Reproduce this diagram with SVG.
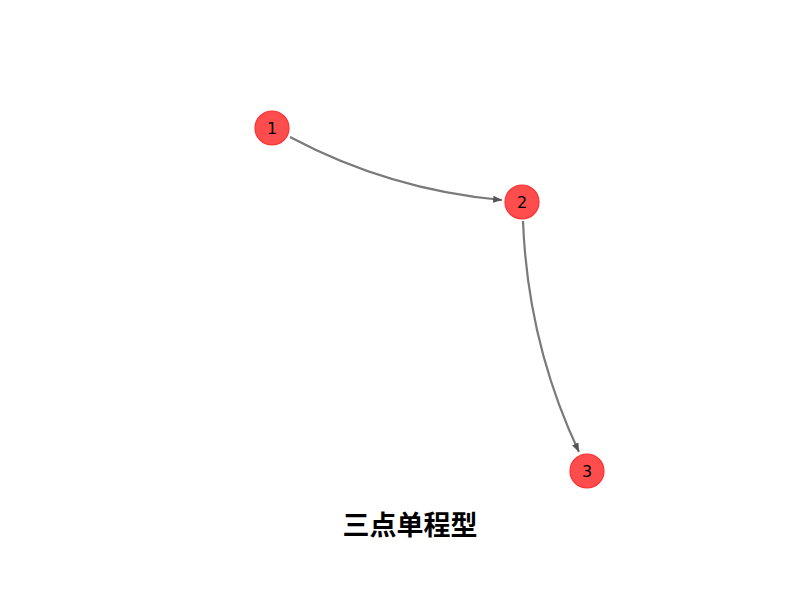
<svg xmlns="http://www.w3.org/2000/svg" width="800" height="600" viewBox="0 0 800 600">
<style>
.edge{fill:none;stroke:#7a7a7a;stroke-width:2.2;}
.node circle{fill:#ff4d4d;stroke:#ff3030;stroke-width:1.2;}
.node text{font-family:"DejaVu Sans",sans-serif;font-size:16px;fill:#000;text-anchor:middle;dominant-baseline:central;}
.title{font-family:"Noto Sans CJK SC",sans-serif;font-weight:bold;font-size:27px;fill:#000;text-anchor:middle;dominant-baseline:central;}
</style>
<defs>
<marker id="arr" viewBox="0 0 10 10" refX="10" refY="5" markerWidth="4" markerHeight="4" orient="auto" markerUnits="strokeWidth">
<path d="M0,1 L10,5 L0,9 z" fill="#555"/>
</marker>
</defs>
<rect width="800" height="600" fill="#fff"/>
<g id="edges">
<path class="edge" d="M290,137 Q389.6,190 502,200" marker-end="url(#arr)"/>
<path class="edge" d="M523,221 Q527.6,343 579,452" marker-end="url(#arr)"/>
</g>
<g id="node1" class="node"><circle cx="272" cy="128" r="17"/><text x="272" y="128">1</text></g>
<g id="node2" class="node"><circle cx="522" cy="202" r="17"/><text x="522" y="202">2</text></g>
<g id="node3" class="node"><circle cx="587" cy="471" r="17"/><text x="587" y="471">3</text></g>
<text class="title" x="410" y="523">三点单程型</text>
</svg>
